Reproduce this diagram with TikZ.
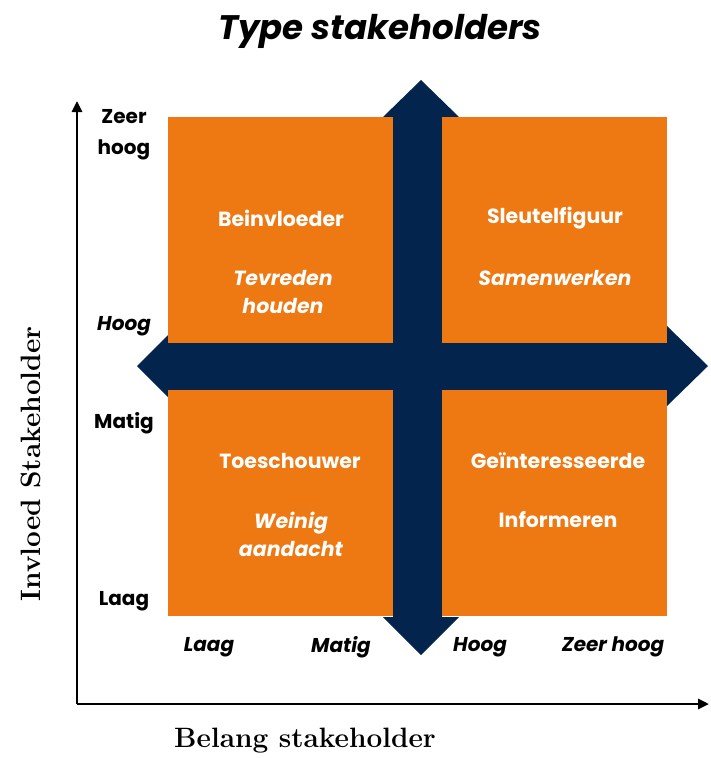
\documentclass[tikz,border=0pt]{standalone}
\usepackage{fontspec}
\setsansfont{Poppins}
\usetikzlibrary{arrows.meta,positioning}
\definecolor{oranje}{RGB}{238,120,18}
\definecolor{navy}{RGB}{2,36,77}

\begin{document}
\begin{tikzpicture}[x=1pt, y=-1pt,
		vak/.style={fill=oranje, draw=none, inner sep=0pt, outer sep=0pt, minimum width=225pt, minimum height=226pt, anchor=north west},
		vaktitel/.style={text=white, align=center, font=\sffamily\bfseries\fontsize{20.5}{28}\selectfont},
		vakactie/.style={vaktitel, font=\sffamily\bfseries\itshape\fontsize{20.5}{28}\selectfont},
		schaal/.style={align=center, font=\sffamily\bfseries\fontsize{20}{31}\selectfont},
		schaalit/.style={schaal, font=\sffamily\bfseries\itshape\fontsize{20}{31}\selectfont},
		as/.style={line width=2.6pt, -{Triangle[length=11pt, width=10pt]}}]
		%%%%% START %%%%%
		
		\useasboundingbox (0, 0) rectangle (711, 758);
		
		% navy kruis
		\fill[navy] (137, 366) -- (177, 326) -- (177, 343) -- (667, 343) -- (667, 326) -- (708, 366)
			-- (667, 406) -- (667, 390) -- (177, 390) -- (177, 406) -- cycle;
		\fill[navy] (421, 80) -- (459, 117) -- (442, 117) -- (442, 617) -- (459, 617) -- (421, 655)
			-- (383, 617) -- (393, 617) -- (393, 117) -- (383, 117) -- cycle;
		
		% kwadranten
		\node[vak] (linksboven) at (168, 117) {};
		\node[vak] (rechtsboven) at (442, 117) {};
		\node[vak] (linksonder) at (168, 390) {};
		\node[vak] (rechtsonder) at (442, 390) {};
		
		\node[vaktitel] (beinvloeder) at (281, 218) {Beinvloeder};
		\node[vakactie] (tevreden) at (283, 292) {Tevreden\\houden};
		\node[vaktitel] (sleutel) at (555, 218) {Sleutelfiguur};
		\node[vakactie] (samen) at (555, 278) {Samenwerken};
		\node[vaktitel] (toeschouwer) at (290, 461) {Toeschouwer};
		\node[vakactie] (weinig) at (291, 534) {Weinig\\aandacht};
		\node[vaktitel] (geinteresseerde) at (558, 461) {Geïnteresseerde};
		\node[vaktitel] (informeren) at (558, 520) {Informeren};
		
		% assen
		\coordinate (oorsprong) at (77, 704);
		\coordinate (ytop) at (77, 101);
		\coordinate (xeind) at (709, 704);
		\draw[as] (oorsprong) -- (ytop);
		\draw[as] (oorsprong) -- (xeind);
		
		\node[schaal] (yzeerhoog) at (124, 135) {Zeer\\hoog};
		\node[schaalit] (yhoog) at (124, 326) {Hoog};
		\node[schaal] (ymatig) at (124, 423) {Matig};
		\node[schaal] (ylaag) at (124, 601) {Laag};
		
		\node[schaalit] (xlaag) at (209, 647) {Laag};
		\node[schaalit] (xmatig) at (341, 647) {Matig};
		\node[schaalit] (xhoog) at (480, 647) {Hoog};
		\node[schaalit] (xzeerhoog) at (613, 647) {Zeer hoog};
		
		\node[font=\bfseries\fontsize{28}{32}\selectfont, rotate=90] (invloed) at (31, 464) {Invloed Stakeholder};
		\node[font=\bfseries\fontsize{28}{32}\selectfont] (belang) at (305, 741) {Belang stakeholder};
		
		\node[font=\sffamily\bfseries\itshape\fontsize{34}{40}\selectfont] (titel) at (380, 31) {Type stakeholders};
		
		%%%%% END %%%%%
\end{tikzpicture}
\end{document}
